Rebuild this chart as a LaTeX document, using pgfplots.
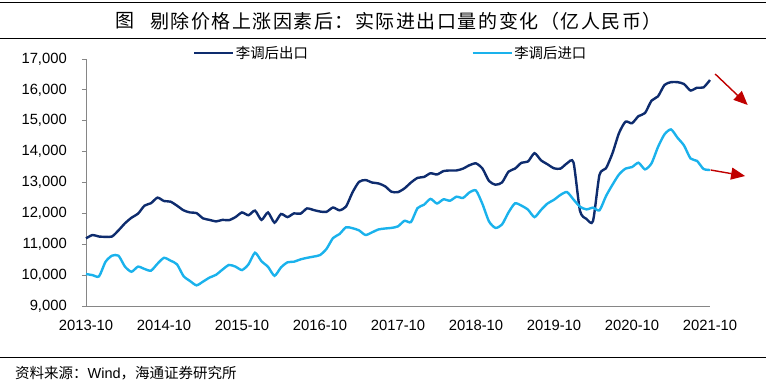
\documentclass[border=0pt]{standalone}
\usepackage{pgfplots}
\pgfplotsset{compat=1.18}
\usepackage{fontspec}
\setmainfont{Liberation Sans}
\newfontfamily\cjk{Noto Sans CJK SC}
\newfontfamily\cjktitle[LetterSpace=8]{Noto Sans CJK SC}
\usetikzlibrary{arrows.meta}
\definecolor{expc}{HTML}{0E2C6E}
\definecolor{impc}{HTML}{1AB2EC}
\definecolor{arrc}{HTML}{C00000}
\definecolor{axc}{HTML}{868686}
\begin{document}
\begin{tikzpicture}
\useasboundingbox (0pt,0pt) rectangle (766pt,-384pt);
\draw[line width=1pt] (0pt,-2pt) -- (766pt,-2pt);
\draw[line width=1pt] (0pt,-38.5pt) -- (766pt,-38.5pt);
\node[font=\cjk\fontsize{19}{19}\selectfont, inner sep=0pt] at (125pt,-21pt) {图};
\node[font=\cjktitle\fontsize{19}{19}\selectfont, inner sep=0pt, anchor=west] at (150pt,-21pt) {剔除价格上涨因素后：实际进出口量的变化（亿人民币）};
\draw[line width=1pt] (0pt,-357pt) -- (766pt,-357pt);
\node[font=\fontsize{14.5}{14.5}\selectfont, inner sep=0pt, anchor=west] at (15pt,-373pt) {{\cjk 资料来源：}Wind{\cjk ，海通证券研究所}};
\begin{axis}[
  at={(86pt,-306pt)}, anchor=south west,
  scale only axis, width=624pt, height=247pt,
  xmin=0, xmax=96, ymin=9000, ymax=17000,
  clip=false,
  axis x line*=bottom, axis y line*=left,
  axis line style={draw=axc, line width=0.9pt},
  xtick={0,12,...,96},
  xticklabels={2013-10,2014-10,2015-10,2016-10,2017-10,2018-10,2019-10,2020-10,2021-10},
  x tick style={draw=none},
  ytick={9000,10000,...,17000},
  y tick style={draw=axc, line width=0.9pt},
  tick align=outside, major tick length=4pt,
  scaled y ticks=false,
  /pgf/number format/assume math mode=true,
  /pgf/number format/1000 sep={,},
  tick label style={font=\fontsize{14.8}{15}\selectfont, text=black},
  yticklabel style={anchor=east, inner sep=0pt, xshift=-15pt},
  xticklabel style={anchor=base, inner sep=0pt, yshift=-20pt},
  legend columns=2,
  legend style={at={(0.1715,1.0255)}, anchor=west, draw=none, fill=none,
    inner sep=0pt, outer sep=0pt, nodes={inner sep=1.5pt},
    font=\cjk\fontsize{14.4}{14.4}\selectfont,
    /tikz/every even column/.append style={column sep=162pt}},
  legend image code/.code={\draw[#1] (0pt,0pt) -- (39pt,0pt);},
]
\addplot[expc, line width=2.4pt, smooth, tension=0.4] coordinates {
(0,11190) (1,11300) (2,11250) (3,11240) (4,11250) (5,11450) (6,11680) (7,11860) (8,11990) (9,12250)
(10,12330) (11,12510) (12,12400) (13,12380) (14,12250) (15,12100) (16,12030) (17,12010) (18,11840) (19,11790)
(20,11740) (21,11790) (22,11780) (23,11880) (24,12030) (25,11940) (26,12090) (27,11790) (28,12030) (29,11700)
(30,11980) (31,11880) (32,12000) (33,11990) (34,12160) (35,12110) (36,12060) (37,12050) (38,12190) (39,12100)
(40,12220) (41,12680) (42,13020) (43,13080) (44,13000) (45,12970) (46,12880) (47,12700) (48,12690) (49,12810)
(50,13000) (51,13150) (52,13180) (53,13300) (54,13260) (55,13370) (56,13390) (57,13390) (58,13450) (59,13560)
(60,13620) (61,13450) (62,13050) (63,12930) (64,13000) (65,13350) (66,13450) (67,13640) (68,13680) (69,13950)
(70,13720) (71,13590) (72,13460) (73,13450) (74,13620) (75,13650) (76,12080) (77,11820) (78,11750) (79,13250)
(80,13460) (81,13950) (82,14600) (83,14970) (84,14920) (85,15150) (86,15250) (87,15650) (88,15790) (89,16160)
(90,16250) (91,16250) (92,16190) (93,15980) (94,16070) (95,16080) (96,16320)
};
\addlegendentry{李调后出口}
\addplot[impc, line width=2.4pt, smooth, tension=0.4] coordinates {
(0,10036) (1,10000) (2,9960) (3,10430) (4,10630) (5,10630) (6,10275) (7,10110) (8,10275) (9,10200)
(10,10145) (11,10370) (12,10560) (13,10470) (14,10350) (15,9970) (16,9810) (17,9670) (18,9790) (19,9920)
(20,10010) (21,10180) (22,10330) (23,10275) (24,10165) (25,10350) (26,10725) (27,10450) (28,10270) (29,9980)
(30,10250) (31,10415) (32,10435) (33,10510) (34,10560) (35,10600) (36,10650) (37,10850) (38,11200) (39,11330)
(40,11550) (41,11520) (42,11450) (43,11300) (44,11385) (45,11480) (46,11510) (47,11530) (48,11580) (49,11760)
(50,11720) (51,12170) (52,12280) (53,12470) (54,12320) (55,12455) (56,12410) (57,12540) (58,12500) (59,12680)
(60,12740) (61,12300) (62,11740) (63,11530) (64,11640) (65,12030) (66,12325) (67,12250) (68,12120) (69,11880)
(70,12110) (71,12320) (72,12440) (73,12600) (74,12690) (75,12450) (76,12215) (77,12130) (78,12185) (79,12100)
(80,12560) (81,12930) (82,13260) (83,13450) (84,13500) (85,13640) (86,13425) (87,13620) (88,14150) (89,14560)
(90,14720) (91,14450) (92,14200) (93,13780) (94,13700) (95,13440) (96,13405)
};
\addlegendentry{李调后进口}
\draw[arrc, line width=1.4pt, -{Triangle[length=14pt,width=12pt]}] (axis cs:96.8,16514) -- (axis cs:101.8,15510);
\draw[arrc, line width=1.4pt, -{Triangle[length=14pt,width=12pt]}] (axis cs:96.1,13405) -- (axis cs:101.4,13210);
\end{axis}
\end{tikzpicture}
\end{document}
